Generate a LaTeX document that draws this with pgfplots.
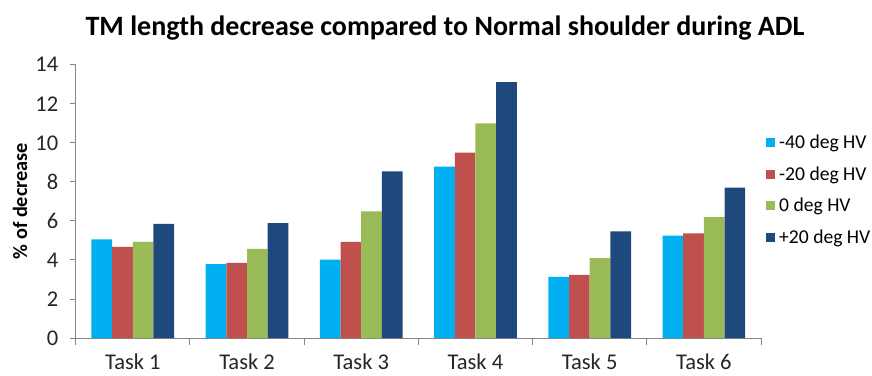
\documentclass[border=0pt]{standalone}
\usepackage{pgfplots}
\pgfplotsset{compat=1.18}
\usepackage{fontspec}
\setmainfont{Carlito}

\definecolor{cA}{HTML}{00B0F0}
\definecolor{cB}{HTML}{C0504D}
\definecolor{cC}{HTML}{9BBB59}
\definecolor{cD}{HTML}{1F497D}
\definecolor{axgray}{HTML}{868686}

\begin{document}
\begin{tikzpicture}[x=1pt,y=1pt]
\path[use as bounding box] (0,0) rectangle (872,375);
\begin{axis}[
  at={(75.7pt,37pt)}, anchor=south west,
  scale only axis,
  width=685.3pt, height=273.3pt,
  ybar=0pt, bar width=0.181,
  xmin=0.5, xmax=6.5,
  ymin=0, ymax=14,
  ytick={0,2,...,14},
  xtick={1,...,6},
  xticklabels={Task 1,Task 2,Task 3,Task 4,Task 5,Task 6},
  minor xtick={0.5,1.5,...,6.5},
  axis x line*=bottom, axis y line*=left,
  axis line style={draw=axgray, line width=0.9pt, -},
  tick align=outside,
  major tick length=6pt, minor tick length=7pt,
  x tick style={draw=none},
  minor x tick style={draw=axgray, line width=0.9pt},
  y tick style={draw=axgray, line width=0.9pt},
  /pgf/number format/assume math mode=true,
  tick label style={font=\fontsize{22.5}{24}\selectfont, text=black!85},
  yticklabel style={xshift=-8pt},
  xticklabel style={yshift=-6pt},
  legend style={at={(1.0073,0.5415)}, anchor=west, draw=none, fill=none,
    inner sep=0pt, row sep=16.5pt, column sep=4pt,
    font=\fontsize{19.6}{21}\selectfont,
    nodes={inner sep=0pt}},
  legend cell align=left,
  legend image code/.code={\fill (0pt,-4.5pt) rectangle (9pt,4.5pt);},
]
\addplot[fill=cA, draw=none] coordinates {(1,5.05) (2,3.78) (3,4.02) (4,8.78) (5,3.13) (6,5.24)};
\addplot[fill=cB, draw=none] coordinates {(1,4.67) (2,3.85) (3,4.93) (4,9.50) (5,3.24) (6,5.36)};
\addplot[fill=cC, draw=none] coordinates {(1,4.93) (2,4.57) (3,6.49) (4,11.00) (5,4.09) (6,6.19)};
\addplot[fill=cD, draw=none] coordinates {(1,5.84) (2,5.89) (3,8.53) (4,13.11) (5,5.46) (6,7.70)};
\legend{-40 deg HV,-20 deg HV,0 deg HV,+20 deg HV}
\end{axis}
\node[font=\bfseries\fontsize{28}{30}\selectfont] at (445,347) {TM length decrease compared to Normal shoulder during ADL};
\node[rotate=90, font=\bfseries\fontsize{20.3}{22}\selectfont] at (20,174) {\% of decrease};
\end{tikzpicture}
\end{document}
